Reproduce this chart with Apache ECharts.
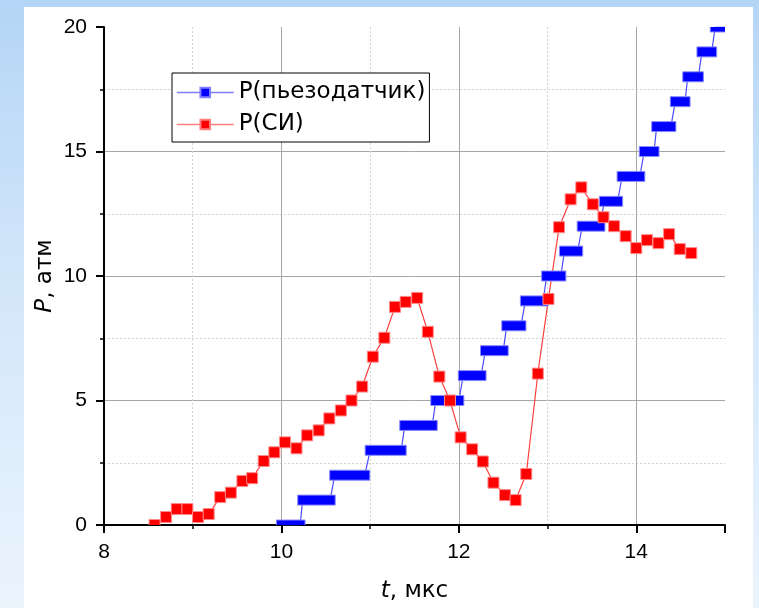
<!DOCTYPE html>
<html>
<head>
<meta charset="utf-8">
<script src="https://cdn.jsdelivr.net/npm/echarts@6/dist/echarts.min.js"></script>
<style>
  html, body { margin: 0; padding: 0; }
  body { width: 759px; height: 608px; background: linear-gradient(to bottom, #b4d5f6 0%, #d2e6fa 45%, #ebf4fd 100%); position: relative; overflow: hidden; }
  #panel { position: absolute; left: 24px; top: 7px; width: 729px; height: 601px; background: #fff; }
  #chart { position: absolute; left: 0; top: 0; width: 759px; height: 608px; }
</style>
</head>
<body>
<div id="panel"></div>
<div id="chart"></div>
<script>
// Red series: P(СИ)
const redT = [8.57, 8.70, 8.82, 8.94, 9.06, 9.18, 9.31, 9.43, 9.56, 9.67,
              9.80, 9.92, 10.04, 10.17, 10.29, 10.42, 10.54, 10.67, 10.79, 10.91,
              11.03, 11.16, 11.28, 11.40, 11.53, 11.65, 11.78, 11.90, 12.02, 12.15,
              12.27, 12.39, 12.52, 12.64, 12.76, 12.89, 13.01, 13.13, 13.26, 13.38,
              13.51, 13.63, 13.75, 13.88, 14.00, 14.12, 14.25, 14.37, 14.49, 14.62];
const redP = [0.00, 0.32, 0.64, 0.64, 0.32, 0.44, 1.12, 1.30, 1.77, 1.88,
              2.57, 2.92, 3.32, 3.08, 3.60, 3.80, 4.28, 4.60, 5.00, 5.56,
              6.76, 7.52, 8.76, 8.96, 9.12, 7.76, 5.96, 5.00, 3.52, 3.04,
              2.55, 1.70, 1.20, 1.00, 2.05, 6.08, 9.08, 11.96, 13.08, 13.56,
              12.88, 12.36, 12.00, 11.60, 11.12, 11.44, 11.32, 11.68, 11.08, 10.92];

// Blue series: P(пьезодатчик) — stepped readings (level, first and last sample time)
const blueLevel = [0, 1, 2, 3, 4, 5, 6, 7, 8, 9, 10, 11, 12, 13, 14, 15, 16, 17, 18, 19, 20];
const blueStart = [10.00, 10.24, 10.60, 11.00, 11.39, 11.74, 12.05, 12.30, 12.54, 12.75,
                   12.99, 13.19, 13.39, 13.64, 13.84, 14.09, 14.23, 14.44, 14.58, 14.74, 14.89];
const blueEnd   = [10.21, 10.55, 10.94, 11.35, 11.70, 12.00, 12.25, 12.50, 12.70, 12.95,
                   13.15, 13.34, 13.59, 13.79, 14.04, 14.20, 14.39, 14.55, 14.70, 14.85, 15.00];

const xTicks = [8, 10, 12, 14];
const yTicks = [0, 5, 10, 15, 20];

const nameBlue = 'P(пьезодатчик)';
const nameRed = 'P(СИ)';

const blueLine = [];
blueLevel.forEach((lv, i) => { blueLine.push([blueStart[i], lv]); blueLine.push([blueEnd[i], lv]); });
const blueBars = blueLevel.map((lv, i) => [blueStart[i], blueEnd[i], lv]);
const redPts = redT.map((t, i) => [t, redP[i]]);

const FONT = "'Liberation Sans', Arial, sans-serif";
const TFONT = "'DejaVu Sans', 'Liberation Sans', sans-serif";
const chart = echarts.init(document.getElementById('chart'), null, { renderer: 'canvas' });

chart.setOption({
  animation: false,
  backgroundColor: 'transparent',
  textStyle: { fontFamily: FONT },
  grid: { left: 104, top: 27, width: 621, height: 500, containLabel: false },
  legend: {
    orient: 'vertical',
    left: 172, top: 73,
    padding: [8, 4, 6, 4],
    itemWidth: 57, itemHeight: 12, itemGap: 9,
    backgroundColor: '#fff',
    borderColor: '#000', borderWidth: 1, borderRadius: 0,
    textStyle: { fontSize: 23, lineHeight: 22, color: '#000', fontFamily: TFONT },
    data: [
      { name: nameBlue, lineStyle: { color: '#7f7fff', width: 1.5 } },
      { name: nameRed, lineStyle: { color: '#ff7f7f', width: 1.5 } }
    ],
    selectedMode: false
  },
  xAxis: {
    type: 'value', min: 8, max: 15, interval: 2,
    name: '{i|t}, мкс', nameLocation: 'middle', nameGap: 55, nameMoveOverlap: false,
    nameTextStyle: { fontSize: 23, color: '#000', fontFamily: TFONT,
      rich: { i: { fontSize: 23, fontStyle: 'italic', color: '#000', fontFamily: TFONT } } },
    axisLine: { show: true, onZero: false, lineStyle: { color: '#000', width: 2 } },
    axisTick: { show: true, length: 8, lineStyle: { color: '#000', width: 2 } },
    minorTick: { show: true, splitNumber: 2, length: 4, lineStyle: { color: '#000', width: 1.5 } },
    axisLabel: { fontSize: 21, color: '#000', margin: 17, showMaxLabel: false, fontFamily: FONT,
      formatter: v => (xTicks.indexOf(v) >= 0 ? String(v) : '') },
    splitLine: { show: true, showMinLine: false, showMaxLine: false, lineStyle: { color: '#a6a6a6', width: 1 } },
    minorSplitLine: { show: true, lineStyle: { color: '#d4d4d4', width: 1, type: [2, 2] } }
  },
  yAxis: {
    type: 'value', min: 0, max: 20, interval: 5,
    name: '{i|P}, атм', nameLocation: 'middle', nameGap: 47, nameRotate: 90, nameMoveOverlap: false,
    nameTextStyle: { fontSize: 23, color: '#000', fontFamily: TFONT,
      rich: { i: { fontSize: 23, fontStyle: 'italic', color: '#000', fontFamily: TFONT } } },
    axisLine: { show: true, onZero: false, lineStyle: { color: '#000', width: 2 } },
    axisTick: { show: true, length: 8, lineStyle: { color: '#000', width: 2 } },
    minorTick: { show: true, splitNumber: 2, length: 4, lineStyle: { color: '#000', width: 1.5 } },
    axisLabel: { fontSize: 21, color: '#000', margin: 17, fontFamily: FONT,
      formatter: v => (yTicks.indexOf(v) >= 0 ? String(v) : '') },
    splitLine: { show: true, showMinLine: false, showMaxLine: false, lineStyle: { color: '#a6a6a6', width: 1 } },
    minorSplitLine: { show: true, lineStyle: { color: '#d4d4d4', width: 1, type: [2, 2] } }
  },
  series: [
    {
      name: nameBlue, type: 'line', data: blueLine,
      symbol: 'rect', symbolSize: 10, showSymbol: false, clip: true, z: 2,
      lineStyle: { color: '#4b4bff', width: 1.2 },
      itemStyle: { color: '#0000ff', borderColor: '#8080ff', borderWidth: 1 },
      emphasis: { disabled: true }
    },
    {
      name: nameRed, type: 'line', data: redPts,
      symbol: 'rect', symbolSize: 10, showSymbol: false, clip: true, z: 2,
      lineStyle: { color: '#ff4040', width: 1.2 },
      itemStyle: { color: '#ff0000', borderColor: '#ff8080', borderWidth: 1 },
      emphasis: { disabled: true }
    },
    {
      name: 'blueMarks', type: 'custom', data: blueBars, clip: true, z: 3,
      encode: { x: [0, 1], y: 2 },
      renderItem: function (params, api) {
        const a = api.coord([api.value(0), api.value(2)]);
        const b = api.coord([api.value(1), api.value(2)]);
        return {
          type: 'rect',
          shape: { x: a[0] - 5, y: a[1] - 5, width: b[0] - a[0] + 10, height: 10 },
          style: { fill: '#0000ff', stroke: '#8a8aff', lineWidth: 1 }
        };
      },
      silent: true
    },
    {
      name: 'redMarks', type: 'custom', data: redPts, clip: true, z: 4,
      encode: { x: 0, y: 1 },
      renderItem: function (params, api) {
        const c = api.coord([api.value(0), api.value(1)]);
        return {
          type: 'rect',
          shape: { x: c[0] - 5.5, y: c[1] - 5.5, width: 11, height: 11 },
          style: { fill: '#ff0000', stroke: '#ff8a8a', lineWidth: 1 }
        };
      },
      silent: true
    }
  ]
});
</script>
</body>
</html>
